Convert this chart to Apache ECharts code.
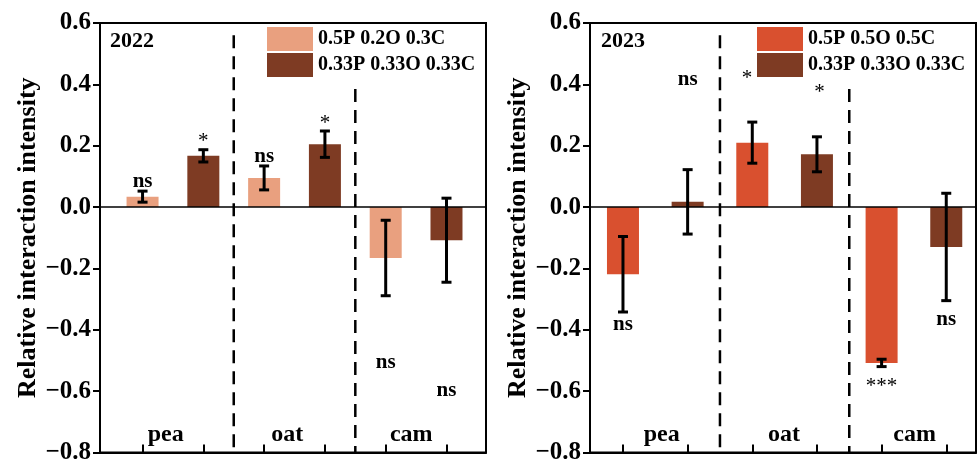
<!DOCTYPE html>
<html>
<head>
<meta charset="utf-8">
<script src="https://cdn.jsdelivr.net/npm/echarts@6/dist/echarts.min.js"></script>
<style>html,body{margin:0;padding:0;background:#fff}#c{width:977px;height:465px}</style>
</head>
<body>
<div id="c"></div>
<script>
// ---- data ----
const groups = ['pea', 'oat', 'cam'];
const yTicks = [-0.8, -0.6, -0.4, -0.2, 0.0, 0.2, 0.4, 0.6];
const series2022Names = ['0.5P 0.2O 0.3C', '0.33P 0.33O 0.33C'];
const series2023Names = ['0.5P 0.5O 0.5C', '0.33P 0.33O 0.33C'];
const mix2022 = [0.034, 0.095, -0.166];
const mix2022Err = [0.018, 0.039, 0.123];
const even2022 = [0.167, 0.205, -0.108];
const even2022Err = [0.020, 0.043, 0.137];
const mix2023 = [-0.219, 0.210, -0.508];
const mix2023Err = [0.123, 0.067, 0.012];
const even2023 = [0.017, 0.172, -0.130];
const even2023Err = [0.105, 0.057, 0.175];
// significance labels, their y positions and small x shifts (data units)
const sigMix2022 = ['ns', 'ns', 'ns'];
const sigMix2022Y = [0.082, 0.166, -0.507];
const sigEven2022 = ['*', '*', 'ns'];
const sigEven2022Y = [0.215, 0.272, -0.597];
const sigMix2023 = ['ns', '*', '***'];
const sigMix2023Y = [-0.382, 0.420, -0.585];
const sigMix2023Shift = [0, -0.08, 0];
const sigEven2023 = ['ns', '*', 'ns'];
const sigEven2023Y = [0.414, 0.375, -0.366];
const sigEven2023Shift = [0, 0.04, 0];
const groupLabelX2022 = [1.38, 3.38, 5.42];
const groupLabelX2023 = [1.6, 3.49, 5.51];
const groupLabelY = -0.742;

// ---- helpers ----
const FONT = 'Liberation Serif';
const C_LIGHT22 = '#E9A07F', C_DARK = '#7E3B23', C_RED23 = '#D9502F';

function barData(vals, offset) { return vals.map((v, i) => [2 * i + offset, v]); }
function errData(vals, errs, offset) { return vals.map((v, i) => [2 * i + offset, v, errs[i]]); }
function sigData(labels, ys, offset, shifts) {
  return labels.map((l, i) => ({ name: l, value: [2 * i + offset + (shifts ? shifts[i] : 0), ys[i]] }));
}

function errSeries(idx, data) {
  return {
    type: 'custom', xAxisIndex: idx, yAxisIndex: idx, z: 5, silent: true,
    data: data,
    renderItem: function (params, api) {
      const x = api.value(0), m = api.value(1), e = api.value(2);
      const top = api.coord([x, m + e]);
      const bot = api.coord([x, m - e]);
      const hw = 5;
      const st = { stroke: '#000', lineWidth: 3 };
      return { type: 'group', children: [
        { type: 'line', shape: { x1: top[0], y1: top[1], x2: bot[0], y2: bot[1] }, style: st },
        { type: 'line', shape: { x1: top[0] - hw, y1: top[1], x2: top[0] + hw, y2: top[1] }, style: st },
        { type: 'line', shape: { x1: bot[0] - hw, y1: bot[1], x2: bot[0] + hw, y2: bot[1] }, style: st }
      ]};
    }
  };
}
function textSeries(idx, data, size, weightFn) {
  return {
    type: 'custom', xAxisIndex: idx, yAxisIndex: idx, silent: true, z: 6,
    data: data,
    renderItem: function (params, api) {
      const p = api.coord([api.value(0), api.value(1)]);
      const t = data[params.dataIndex].name;
      const w = weightFn(t);
      return { type: 'text', x: p[0], y: p[1], style: {
        text: t, align: 'center', verticalAlign: 'middle', fill: '#000',
        font: w + ' ' + size + 'px "Liberation Serif"'
      } };
    }
  };
}
function sigSeries(idx, data) {
  return textSeries(idx, data, 21, t => (t === 'ns' ? 'bold' : 'normal'));
}
function groupLabelSeries(idx, xs) {
  return textSeries(idx, groups.map((g, i) => ({ name: g, value: [xs[i], groupLabelY] })), 24, () => 'bold');
}
function dashSeries(idx, x, yTop) {
  return {
    type: 'line', xAxisIndex: idx, yAxisIndex: idx, symbol: 'none', silent: true, z: 3,
    data: [[x, yTop], [x, -0.8]],
    lineStyle: { color: '#000', width: 2.5, type: [13, 8] }
  };
}
function barSeries(idx, name, data, color) {
  return {
    type: 'bar', name: name, xAxisIndex: idx, yAxisIndex: idx, barWidth: 32, barGap: '-100%',
    itemStyle: { color: color }, data: data, z: 2
  };
}
function zeroLine(idx, xmin, xmax) {
  return {
    type: 'line', xAxisIndex: idx, yAxisIndex: idx, symbol: 'none', silent: true, z: 4,
    data: [[xmin, 0], [xmax, 0]], lineStyle: { color: '#000', width: 1.5 }
  };
}
function yAxis(idx, nameGap) {
  return {
    type: 'value', gridIndex: idx, min: yTicks[0], max: yTicks[yTicks.length - 1], interval: 0.2,
    name: 'Relative interaction intensity', nameLocation: 'middle', nameGap: nameGap,
    nameTextStyle: { fontFamily: FONT, fontSize: 26, fontWeight: 'bold', color: '#000' },
    axisLine: { show: true, lineStyle: { color: '#000', width: 2 } },
    axisTick: { show: true, inside: false, length: 7, lineStyle: { color: '#000', width: 2 } },
    splitLine: { show: false },
    axisLabel: {
      margin: 9, color: '#000', fontFamily: FONT, fontSize: 25, fontWeight: 'bold',
      formatter: v => (v < 0 ? '\u2212' : '') + Math.abs(v).toFixed(1)
    }
  };
}
function xAxis(idx, min, max) {
  return {
    type: 'value', gridIndex: idx, min: min, max: max,
    axisLine: { show: true, onZero: false, lineStyle: { color: '#000', width: 2 } },
    axisTick: { show: true, inside: true, length: 8, customValues: [1, 2, 3, 4, 5, 6], lineStyle: { color: '#000', width: 2 } },
    axisLabel: { show: false },
    splitLine: { show: false }
  };
}
function legend(names, left) {
  return {
    data: names.map(n => ({ name: n })), left: left, top: 27, padding: 0, orient: 'vertical',
    itemWidth: 46, itemHeight: 24, itemGap: 2, icon: 'rect',
    formatter: n => n.trim(),
    textStyle: { fontFamily: FONT, fontSize: 20, fontWeight: 'bold', color: '#000', padding: [0, 0, 0, 0] }
  };
}

const X0 = [0.3, 0.49], X1 = [6.65, 6.46];
const dark2023Key = series2023Names[1] + ' ';

const option = {
  animation: false,
  grid: [
    { left: 100, top: 23, width: 386, height: 435, show: true, borderColor: '#000', borderWidth: 2, backgroundColor: 'transparent' },
    { left: 590, top: 23, width: 386, height: 435, show: true, borderColor: '#000', borderWidth: 2, backgroundColor: 'transparent' }
  ],
  xAxis: [xAxis(0, X0[0], X1[0]), xAxis(1, X0[1], X1[1])],
  yAxis: [yAxis(0, 58), yAxis(1, 55)],
  legend: [legend(series2022Names, 267), legend([series2023Names[0], dark2023Key], 757)],
  graphic: [
    { type: 'text', left: 110, top: 30, style: { text: '2022', font: 'bold 22px "Liberation Serif"', fill: '#000' } },
    { type: 'text', left: 601, top: 30, style: { text: '2023', font: 'bold 22px "Liberation Serif"', fill: '#000' } }
  ],
  series: [
    barSeries(0, series2022Names[0], barData(mix2022, 1), C_LIGHT22),
    barSeries(0, series2022Names[1], barData(even2022, 2), C_DARK),
    errSeries(0, errData(mix2022, mix2022Err, 1)),
    errSeries(0, errData(even2022, even2022Err, 2)),
    sigSeries(0, sigData(sigMix2022, sigMix2022Y, 1)),
    sigSeries(0, sigData(sigEven2022, sigEven2022Y, 2)),
    groupLabelSeries(0, groupLabelX2022),
    dashSeries(0, 2.5, 0.56),
    dashSeries(0, 4.5, 0.385),
    zeroLine(0, X0[0], X1[0]),

    barSeries(1, series2023Names[0], barData(mix2023, 1), C_RED23),
    barSeries(1, dark2023Key, barData(even2023, 2), C_DARK),
    errSeries(1, errData(mix2023, mix2023Err, 1)),
    errSeries(1, errData(even2023, even2023Err, 2)),
    sigSeries(1, sigData(sigMix2023, sigMix2023Y, 1, sigMix2023Shift)),
    sigSeries(1, sigData(sigEven2023, sigEven2023Y, 2, sigEven2023Shift)),
    groupLabelSeries(1, groupLabelX2023),
    dashSeries(1, 2.5, 0.56),
    dashSeries(1, 4.5, 0.385),
    zeroLine(1, X0[1], X1[1])
  ]
};

const chart = echarts.init(document.getElementById('c'), null, { renderer: 'canvas' });
chart.setOption(option);
</script>
</body>
</html>
